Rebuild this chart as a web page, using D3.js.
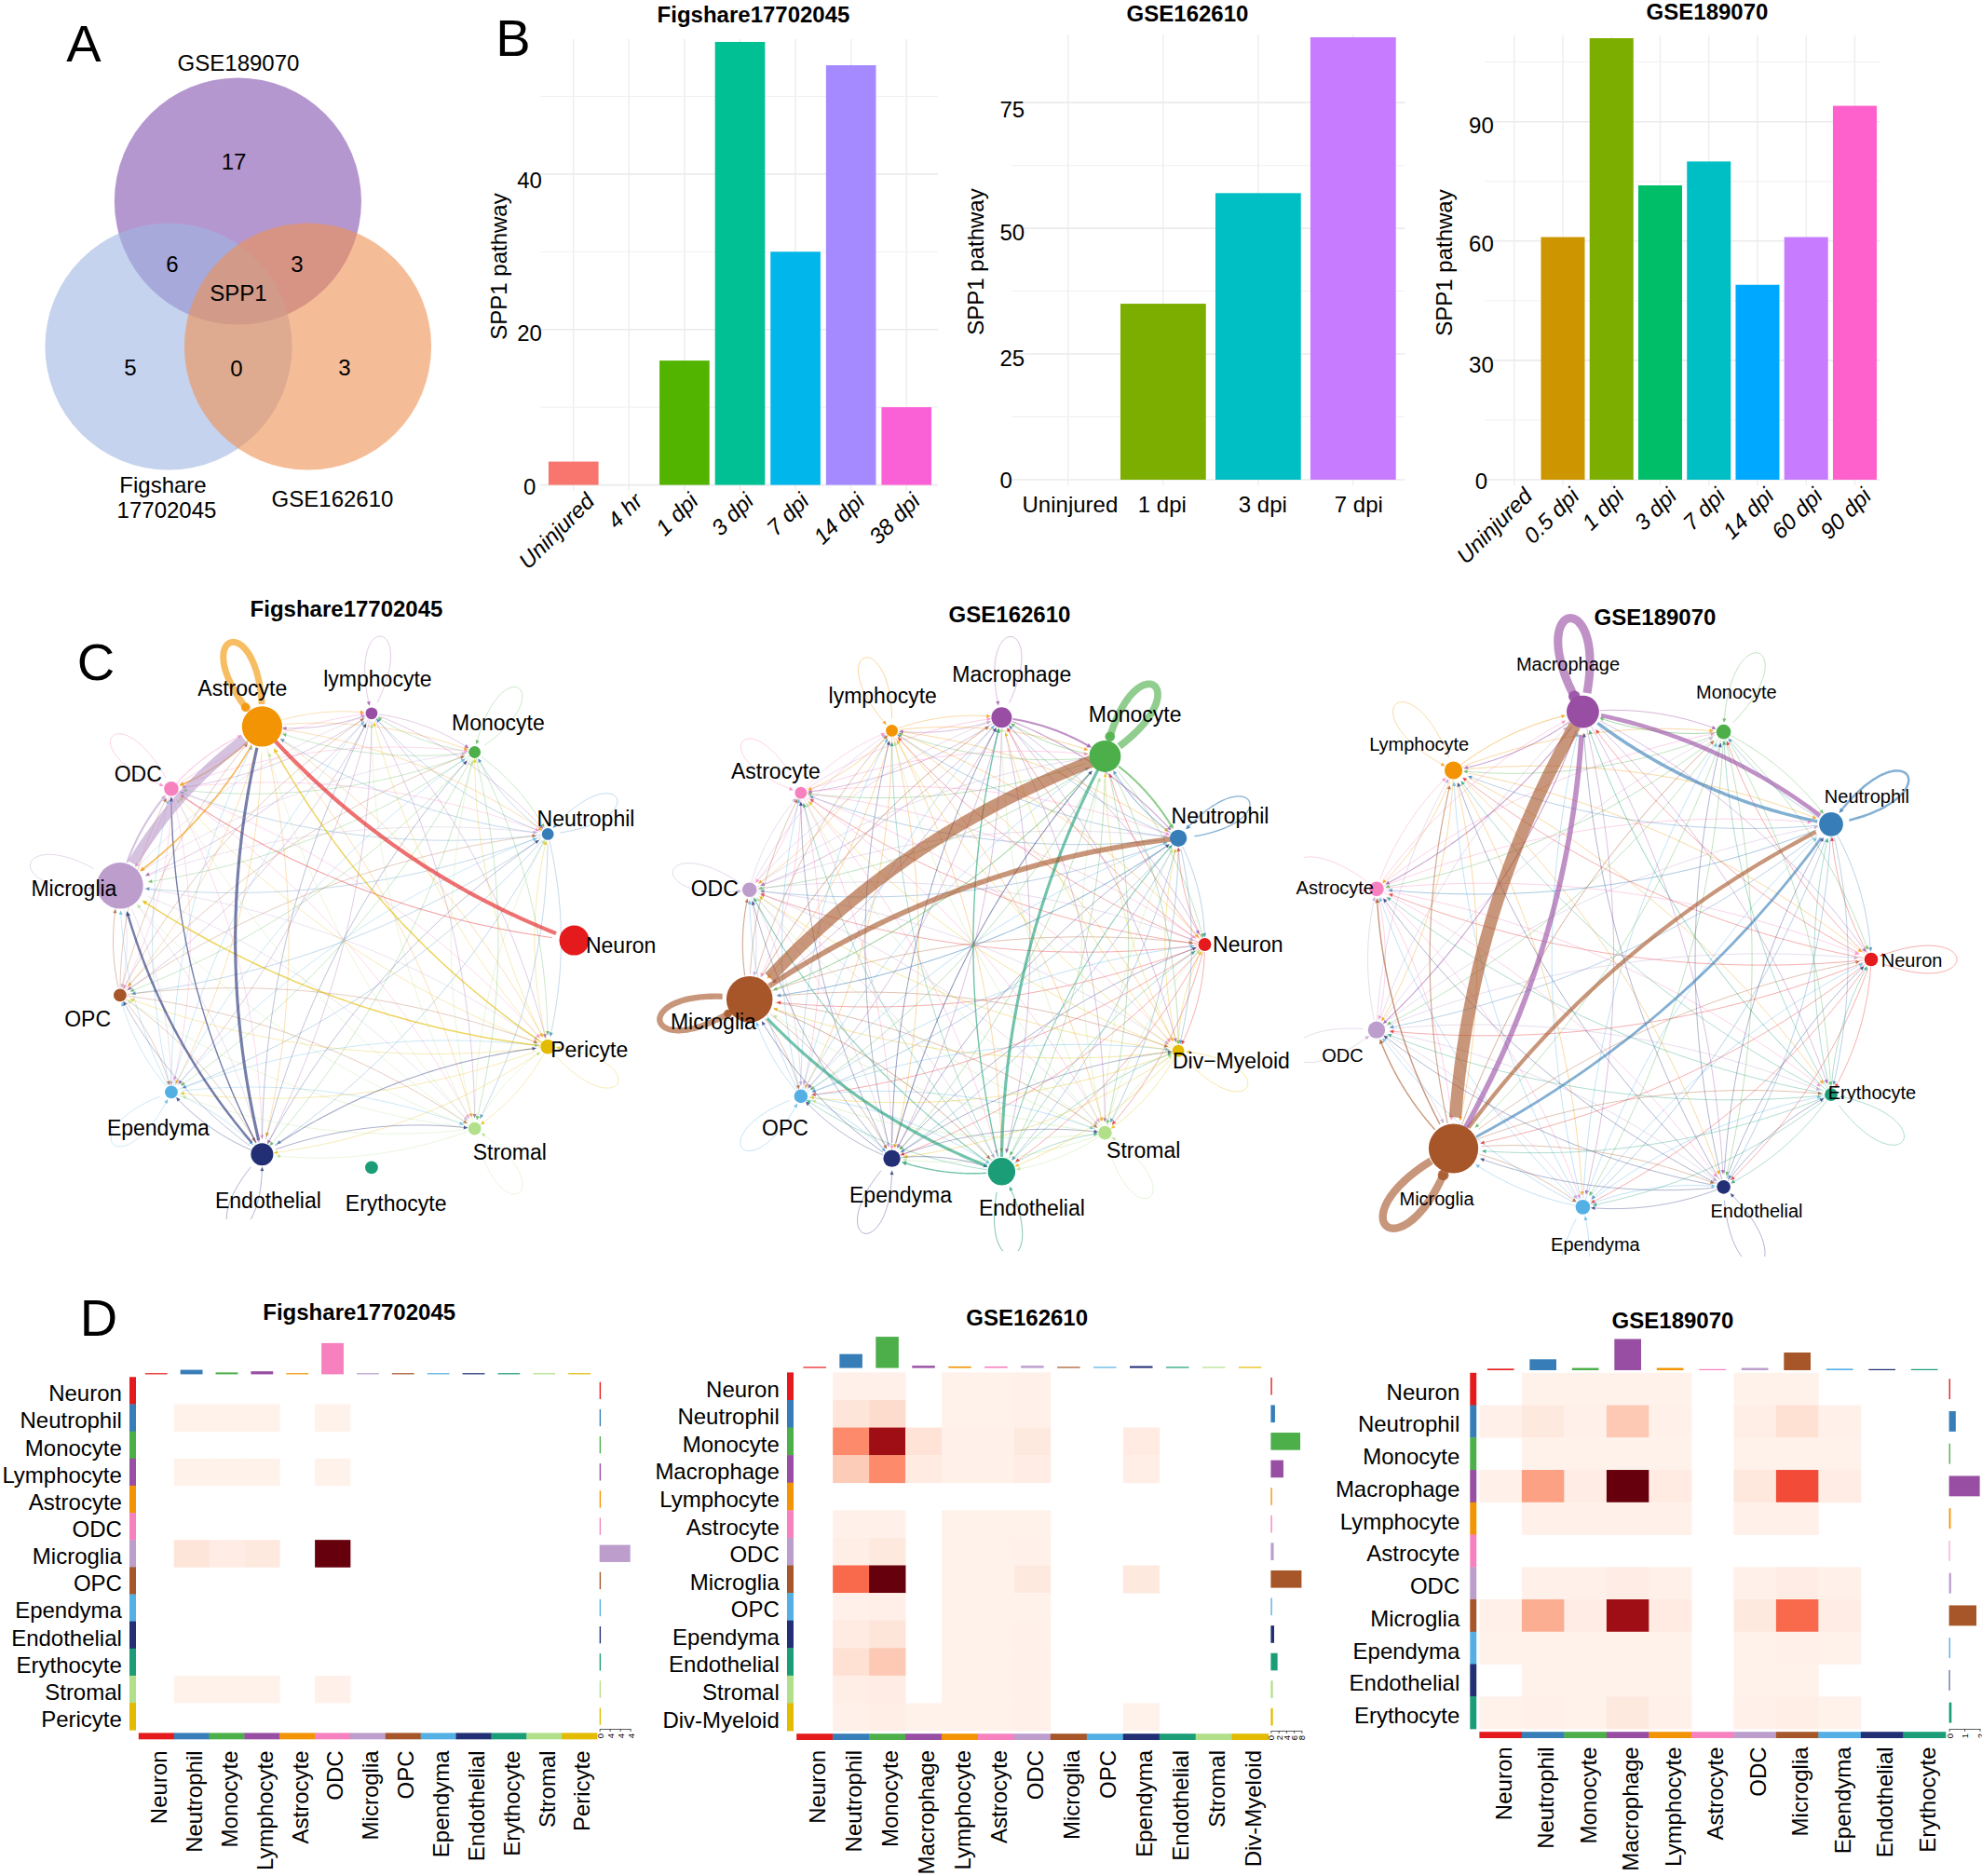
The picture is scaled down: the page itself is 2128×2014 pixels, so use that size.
<!DOCTYPE html>
<html><head><meta charset="utf-8">
<style>html,body{margin:0;padding:0;background:#fff}svg{display:block}text{font-family:"Liberation Sans",Arial,sans-serif;fill:#000}</style>
<script src="https://cdn.jsdelivr.net/npm/d3@7"></script></head><body>
<svg id="fig" width="2128" height="2014" viewBox="0 0 2128 2014"></svg>
<script>
// ---------- data ----------
const palette=["#E41A1C","#377EB8","#4DAF4A","#984EA3","#F29403","#F781BF","#BC9DCC","#A65628","#54B0E4","#222F75","#1B9E77","#B2DF8A","#E3BB00"];

const vennSets=["GSE189070","Figshare","GSE162610"];
const vennColors=["#8452AF","#9EB6E3","#EE9152"];
const vennCounts=["17","6","3","SPP1","5","0","3"];

const catsB1=["Uninjured","4 hr","1 dpi","3 dpi","7 dpi","14 dpi","38 dpi"];
const valsB1=[3,0,16,57,30,54,10];
const colsB1=["#F8766D","#C49A00","#53B400","#00C094","#00B6EB","#A58AFF","#FB61D7"];
const catsB2=["Uninjured","1 dpi","3 dpi","7 dpi"];
const valsB2=[0,35,57,88];
const colsB2=["#F8766D","#7CAE00","#00BFC4","#C77CFF"];
const catsB3=["Uninjured","0.5 dpi","1 dpi","3 dpi","7 dpi","14 dpi","60 dpi","90 dpi"];
const valsB3=[0,61,111,74,80,49,61,94];
const colsB3=["#F8766D","#CD9600","#7CAE00","#00BE67","#00BFC4","#00A9FF","#C77CFF","#FF61CC"];

const namesC1=["Neuron","Neutrophil","Monocyte","lymphocyte","Astrocyte","ODC","Microglia","OPC","Ependyma","Endothelial","Erythocyte","Stromal","Pericyte"];
const sizesC1=[16,6.4,6.4,6.4,21.6,7.8,24.8,6.9,6.9,12,6.9,6.9,7.8];
const netC1=[
[0,0,0,0,6,1.5,0,0,0,0,0,0,0],
[0,1,1,1,1,1,1,1,1,1,0,1,1],
[0,1,1,1,1,1,1,1,1,1,0,1,1],
[0,1,1,1,1.2,1,1,1,1,1,0,1,1],
[0,1,1,1,10,2.5,2.5,1,1,1,0,1,1],
[0,1,1,1,1.6,1.3,1.3,1,1,1,0,1,1],
[0,1,1,1,16,3,1.4,1,1,1,0,1,1],
[0,1,1,1,1,1,1.3,0,1,1,0,1,1],
[0,1,1,1,1,1,1,1,1,1,0,1,1],
[0,1,1,1,4.5,2,3.5,1,1.3,1.2,0,1.3,1.6],
[0,0,0,0,0,0,0,0,0,0,0,0,0],
[0,1,1,1,1,1,1,1,1,1,0,1,1],
[0,1,1,1,2.2,1,2.2,1,1,1,0,1,1]];

const namesC2=["Neuron","Neutrophil","Monocyte","Macrophage","lymphocyte","Astrocyte","ODC","Microglia","OPC","Ependyma","Endothelial","Stromal","Div\u2212Myeloid"];
const sizesC2=[6.9,9.2,17,11,6.4,6.4,7.8,24.8,7.3,9.2,14.7,7.3,6.4];
const netC2=[
[0,1,1,1,1,1,1,1,1,1,1,1,1],
[1,1.8,1.5,1,1,1,1,1.5,1,1,1,1,1],
[1,3,11,1.2,1,1,1,1.5,1,1,1,1,1],
[1,1.6,3,1,1,1,1,1,1,1,1,1,1],
[1,1,1,1,1.1,1,1,1,1,1,1,1,1],
[1,1,1,1,1,1,1,1,1,1,1,1,1],
[1,1,1,1,1,1,1.1,1,1,1,1,1,1],
[1,8,19,1.3,1,1,1.6,9,1,1,1.3,1,1],
[1,1,1,1,1,1,1,1,1,1,1,1,1],
[1,1,1.5,1.3,1,1,1,1.2,1,1,1.2,1,1],
[1,1.5,4.5,2,1,1,1.5,4.5,1,2,1.6,1,1],
[1,1,1,1,1,1,1,1,1,1,1,1,1],
[1,1,1,1,1,1,1,1,1,1,1,1,1]];

const namesC3=["Neuron","Neutrophil","Monocyte","Macrophage","Lymphocyte","Astrocyte","ODC","Microglia","Ependyma","Endothelial","Erythocyte"];
const sizesC3=[7.3,12.9,7.8,17.4,9.6,7.8,9.2,26.6,7.8,7.3,6.9];
const netC3=[
[1,1,1,1,1,1,1,1,1,1,1],
[1,3.5,1,5,1,1.2,1,4,1,1,1],
[1,1,1,1.4,1,1,1,1,1,1,1],
[1,6.5,1.2,13,1.5,1.6,1.6,8,1,1,1],
[1,1,1,1.4,1,1,1,1,1,1,1],
[1,1,1,1,1,1,1,1,1,1,1],
[1,1,1,1,1,1,1,1,1,1,1],
[1,6,1.3,19,1.7,2,2,12,1,1,1],
[1,1,1,1,1,1,1,1,1,1,1],
[1,1,1,1,1,1,1,1,1,1,1],
[1,1,1,1.3,1,1,1,1,1,1,1]];

const rowsD1=["Neuron","Neutrophil","Monocyte","Lymphocyte","Astrocyte","ODC","Microglia","OPC","Ependyma","Endothelial","Erythocyte","Stromal","Pericyte"];
const colsD1=["Neuron","Neutrophil","Monocyte","Lymphocyte","Astrocyte","ODC","Microglia","OPC","Ependyma","Endothelial","Erythocyte","Stromal","Pericyte"];
const heatD1=[
[0,0,0,0,0,0,0,0,0,0,0,0,0],
[0,.02,.02,.02,0,.02,0,0,0,0,0,0,0],
[0,0,0,0,0,0,0,0,0,0,0,0,0],
[0,.02,.02,.02,0,.02,0,0,0,0,0,0,0],
[0,0,0,0,0,0,0,0,0,0,0,0,0],
[0,0,0,0,0,0,0,0,0,0,0,0,0],
[0,.09,.05,.07,0,1,0,0,0,0,0,0,0],
[0,0,0,0,0,0,0,0,0,0,0,0,0],
[0,0,0,0,0,0,0,0,0,0,0,0,0],
[0,0,0,0,0,0,0,0,0,0,0,0,0],
[0,0,0,0,0,0,0,0,0,0,0,0,0],
[0,.02,.02,.02,0,.025,0,0,0,0,0,0,0],
[0,0,0,0,0,0,0,0,0,0,0,0,0]];
const topD1=[3,12,5,8,3,83,3,3,3,3,3,3,3];
const rightD1=[3,3,3,3,3,3,72,3,3,3,3,3,3];
const axisD1=["0","4","4","4"];

const rowsD2=["Neuron","Neutrophil","Monocyte","Macrophage","Lymphocyte","Astrocyte","ODC","Microglia","OPC","Ependyma","Endothelial","Stromal","Div-Myeloid"];
const colsD2=rowsD2;
const heatD2=[
[0,.03,.03,0,.02,.02,.025,0,0,0,0,0,0],
[0,.09,.13,0,.02,.02,.025,0,0,0,0,0,0],
[0,.40,.88,.10,.03,.03,.07,0,0,.06,0,0,0],
[0,.19,.40,.06,.03,.03,.05,0,0,.04,0,0,0],
[0,0,0,0,0,0,0,0,0,0,0,0,0],
[0,.025,.025,0,.02,.02,.02,0,0,0,0,0,0],
[0,.04,.07,0,.02,.02,.025,0,0,0,0,0,0],
[0,.50,1,0,.02,.02,.07,0,0,.07,0,0,0],
[0,.03,.035,0,.02,.02,.02,0,0,0,0,0,0],
[0,.06,.09,0,.02,.02,.025,0,0,0,0,0,0],
[0,.11,.20,0,.02,.02,.03,0,0,0,0,0,0],
[0,.04,.05,0,.02,.02,.025,0,0,0,0,0,0],
[0,.03,.04,.02,.02,.02,.025,0,0,.02,0,0,0]];
const topD2=[3,37,83,6,4,4,6,3,3,5,3,3,3];
const rightD2=[3,10,70,30,3,3,7,73,3,8,16,5,5];
const axisD2=["0","2","4","6","8"];

const rowsD3=["Neuron","Neutrophil","Monocyte","Macrophage","Lymphocyte","Astrocyte","ODC","Microglia","Ependyma","Endothelial","Erythocyte"];
const colsD3=rowsD3;
const heatD3=[
[0,.02,.02,.02,.02,0,.02,.02,0,0,0],
[.025,.07,.03,.20,.03,0,.04,.11,.03,0,0],
[0,.02,.02,.02,.02,0,.02,.02,.02,0,0],
[.03,.33,.05,1,.06,0,.08,.58,.05,0,0],
[0,.025,.025,.03,.025,0,.025,.03,0,0,0],
[0,0,0,0,0,0,0,0,0,0,0],
[0,.03,.03,.05,.03,0,.03,.045,.03,0,0],
[.03,.29,.05,.88,.06,0,.07,.50,.05,0,0],
[.02,.02,.02,.02,.02,0,.02,.025,.02,0,0],
[0,.02,.02,.02,.02,0,.02,.02,0,0,0],
[.02,.03,.02,.07,.025,0,.025,.04,.02,0,0]];
const topD3=[4,29,6,83,6,3,6,47,4,3,3];
const rightD3=[3,16,3,73,4,2,5,65,3,2,6];
const axisD3=["0","1","2"];

// ---------- helpers ----------
const svg=d3.select("#fig");
const FONT=24;
function txt(g,x,y,s,o={}){
  const t=g.append("text").attr("x",x).attr("y",y).attr("text-anchor",o.anchor||"middle")
    .attr("dy",o.dy||"0.35em").attr("font-size",o.size||FONT).text(s);
  if(o.bold)t.attr("font-weight","bold");
  if(o.italic)t.attr("font-style","italic");
  if(o.rotate!==undefined)t.attr("transform",`rotate(${o.rotate},${x},${y})`);
  return t;
}

// ---------- panel letters ----------
[["A",90,46],["B",551,40],["C",103,710],["D",106,1414]].forEach(d=>txt(svg,d[1],d[2],d[0],{size:56}));

// ---------- panel A ----------
(function(){
  const g=svg.append("g");
  const cx=[255.4,181,330.5], cy=[216,372,372];
  vennSets.forEach((s,i)=>g.append("circle").attr("cx",cx[i]).attr("cy",cy[i]).attr("r",132.6)
     .attr("fill",vennColors[i]).attr("fill-opacity",.6));
  const px=[251,185,319,256,140,254,370], py=[174,284,284,315,395,396,395];
  vennCounts.forEach((s,i)=>txt(g,px[i],py[i],s));
  txt(g,256,68,"GSE189070"); txt(g,175,521,"Figshare"); txt(g,179,548,"17702045"); txt(g,357,536,"GSE162610");
})();

// ---------- panel B ----------
function barPanel(o){
  const g=svg.append("g");
  const x=d3.scaleBand().domain(o.cats).range([o.left,o.right]).paddingInner(.1).paddingOuter(.15);
  const y=d3.scaleLinear().domain([0,o.max]).range([o.y0,o.yTop]);
  const cx=c=>x(c)+x.bandwidth()/2;
  g.selectAll(".vg").data(o.cats).join("line").attr("x1",cx).attr("x2",cx)
    .attr("y1",o.yTop-3).attr("y2",o.y0+6).attr("stroke","#ececec").attr("stroke-width",1.3);
  g.selectAll(".mg").data(o.minor).join("line").attr("x1",o.left).attr("x2",o.gridRight)
    .attr("y1",y).attr("y2",y).attr("stroke","#f0f0f0").attr("stroke-width",1);
  g.selectAll(".hg").data(o.ticks).join("line").attr("x1",o.left).attr("x2",o.gridRight)
    .attr("y1",y).attr("y2",y).attr("stroke","#ebebeb").attr("stroke-width",1.6);
  g.selectAll(".bar").data(o.vals).join("rect")
    .attr("x",(d,i)=>x(o.cats[i])).attr("width",x.bandwidth())
    .attr("y",d=>y(d)).attr("height",d=>y(0)-y(d)).attr("fill",(d,i)=>o.colors[i]);
  const ay=g.append("g").attr("transform",`translate(${o.left},0)`).call(d3.axisLeft(y).tickValues(o.ticks).tickSize(0));
  ay.select(".domain").remove();
  ay.selectAll("text").attr("x",o.tickDx).attr("text-anchor",o.tickAnchor).attr("dy","0.32em")
     .attr("transform",(d,i)=>`translate(0,${o.tickShift[i]})`)
     .attr("font-size",FONT).attr("fill","#000").style("font-family",'"Liberation Sans",Arial,sans-serif');
  const ax=g.append("g").attr("transform",`translate(0,${o.y0})`).call(d3.axisBottom(x).tickSize(0));
  ax.select(".domain").remove();
  ax.selectAll("text").attr("font-size",FONT).attr("fill","#000").style("font-family",'"Liberation Sans",Arial,sans-serif');
  if(o.rotated){
    ax.selectAll("text").attr("text-anchor","end").attr("font-style","italic").attr("dy",0).attr("y",0)
      .attr("transform",(d,i)=>`translate(${o.shift[i]},19) rotate(-45)`);
  }else{
    ax.selectAll("text").attr("y",27).attr("dy","0.35em").attr("x",(d,i)=>o.shift[i]);
  }
  txt(g,o.yLabel[0],o.yLabel[1],"SPP1 pathway",{rotate:-90});
  txt(g,o.title[0],o.title[1],o.title[2],{bold:true});
}
barPanel({cats:catsB1,vals:valsB1,colors:colsB1,left:580,right:1009,gridRight:1007,y0:520.6,yTop:45,max:57,ticks:[0,20,40],minor:[10,30,50],
  rotated:true,shift:[24,16,16,16,16,16,16],tickDx:-11.4,tickAnchor:"middle",tickShift:[2,4.5,7.2],yLabel:[536,286],title:[809,16,"Figshare17702045"]});
barPanel({cats:catsB2,vals:valsB2,colors:colsB2,left:1085.7,right:1514,gridRight:1508.4,y0:515,yTop:40,max:88,ticks:[0,25,50,75],minor:[12.5,37.5,62.5],
  rotated:false,shift:[2,-1,5,6],tickDx:-12.2,tickAnchor:"start",tickShift:[.4,4.5,4.5,7.2],yLabel:[1048,281],title:[1275,15,"GSE162610"]});
barPanel({cats:catsB3,vals:valsB3,colors:colsB3,left:1594.4,right:2022.8,gridRight:2018.5,y0:515,yTop:41,max:111,ticks:[0,30,60,90],minor:[15,45,75,105],
  rotated:true,shift:[21,19,15,19,19,19,19,19],tickDx:-4,tickAnchor:"middle",tickShift:[1.8,4.5,3,4.5],yLabel:[1551,282],title:[1833,13,"GSE189070"]});

// ---------- panel C ----------
function circlePanel(o){
  const clipId="clip"+o.id;
  svg.append("clipPath").attr("id",clipId).append("rect").attr("x",o.clip[0]).attr("y",o.clip[1]).attr("width",o.clip[2]).attr("height",o.clip[3]);
  const g=svg.append("g").attr("clip-path",`url(#${clipId})`);
  const n=o.names.length;
  const ang=d3.scaleLinear().domain([0,n]).range([0,2*Math.PI]);
  const px=i=>o.cx+o.Rx*Math.cos(ang(i)), py=i=>o.cy-o.Ry*Math.sin(ang(i));
  const line=d3.line().curve(d3.curveBasis);
  function strokePts(pts,tx,ty,tr,sr,sx,sy,w,color,isLoop){
    // trim the sampled curve at both node rims and finish it with an arrow head
    const alen=w<1.2?4.5:Math.max(5,Math.min(w,6)), ahw=w<1.2?2:Math.max(2.4,Math.min(w*.6,4));
    const thick=w>2.5;
    const kept=pts.filter((p,i)=>{
      const dt=Math.hypot(p[0]-tx,p[1]-ty), ds=Math.hypot(p[0]-sx,p[1]-sy);
      return dt>tr+(thick?-2:alen) && (i>pts.length/2 || ds>sr);
    });
    if(kept.length<2)return;
    const thin=w<1.2;
    g.append("path").attr("d",line(kept)).attr("fill","none").attr("stroke",color)
      .attr("stroke-width",w).attr("stroke-opacity",thin?o.thinAlpha:.62);
    const a=kept[kept.length-1], b=kept[kept.length-2];
    const ux=(a[0]-b[0]), uy=(a[1]-b[1]), L=Math.hypot(ux,uy)||1;
    const dx=ux/L, dy=uy/L;
    if(thick){ // wide loops end in a soft round head that sits on the node
      if(isLoop)g.append("circle").attr("cx",a[0]-dx*3).attr("cy",a[1]-dy*3).attr("r",Math.min(w*.7,6.5)).attr("fill",color).attr("fill-opacity",.85);
      return;
    }
    const tipx=a[0]+dx*alen, tipy=a[1]+dy*alen;
    g.append("path").attr("d",`M${tipx},${tipy}L${a[0]-dy*ahw},${a[1]+dx*ahw}L${a[0]+dy*ahw},${a[1]-dx*ahw}Z`)
      .attr("fill",color).attr("fill-opacity",thin?.8:.85);
  }
  const order=[];
  o.net.forEach((row,i)=>row.forEach((v,j)=>{if(v>0)order.push([i,j,v]);}));
  order.sort((a,b)=>a[2]-b[2]);
  order.forEach(([i,j,v])=>{
    const w=v*.7, color=palette[i];
    const x0=px(i),y0=py(i),x1=px(j),y1=py(j);
    const pts=[];
    if(i===j){
      const a=ang(i);
      const tip=(78+.85*o.sizes[i])*o.Ry/245.6;
      const ax=Math.cos(a), ay=-Math.sin(a);
      const dAx=tip*1.333, wid=dAx*.42;
      const c1=[x0+ax*dAx-ay*wid, y0+ay*dAx+ax*wid];
      const c2=[x0+ax*dAx+ay*wid, y0+ay*dAx-ax*wid];
      for(let k=0;k<=80;k++){
        const t=k/80,m=1-t;
        pts.push([m*m*m*x0+3*m*m*t*c1[0]+3*m*t*t*c2[0]+t*t*t*x0, m*m*m*y0+3*m*m*t*c1[1]+3*m*t*t*c2[1]+t*t*t*y0]);
      }
    }else{
      const dx=x1-x0,dy=y1-y0,L=Math.hypot(dx,dy);
      const cxp=(x0+x1)/2+dy/L*.125*L, cyp=(y0+y1)/2-dx/L*.125*L;
      for(let k=0;k<=60;k++){
        const t=k/60,m=1-t;
        pts.push([m*m*x0+2*m*t*cxp+t*t*x1, m*m*y0+2*m*t*cyp+t*t*y1]);
      }
    }
    strokePts(pts,x1,y1,o.sizes[j],o.sizes[i],x0,y0,w,color,i===j);
  });
  g.selectAll(".node").data(o.names).join("circle")
    .attr("cx",(d,i)=>px(i)).attr("cy",(d,i)=>py(i)).attr("r",(d,i)=>o.sizes[i]).attr("fill",(d,i)=>palette[i]);
  const lab=svg.append("g");
  o.names.forEach((s,i)=>txt(lab,o.lx[i],o.ly[i],s,{size:o.fs}));
  txt(lab,o.title[0],o.title[1],o.title[2],{bold:true});
}
circlePanel({id:"c1",names:namesC1,sizes:sizesC1,net:netC1,cx:369.1,cy:1009.6,Rx:247.4,Ry:245.6,fs:23,thinAlpha:.42,clip:[0,640,720,669],
  lx:[666.7,629,534.9,405.4,260.3,148.3,79.4,94.1,169.9,287.9,425.2,547.3,632.7],
  ly:[1014.9,878.5,776.1,729.3,738.9,830.7,953.8,1093.8,1210.5,1288.5,1291.7,1237.1,1126.9],
  title:[372,654,"Figshare17702045"]});
circlePanel({id:"c2",names:namesC2,sizes:sizesC2,net:netC2,cx:1045.5,cy:1014,Rx:248,Ry:245.6,fs:23,thinAlpha:.5,clip:[690,640,720,703],
  lx:[1339.8,1310,1218.6,1086.3,947.7,832.9,767.2,765.9,843,967,1107.9,1227.7,1321.9],
  ly:[1013.5,875.7,767.4,724.2,746.7,828.4,953.8,1096.6,1210.5,1282.5,1296.8,1235.2,1139.3],
  title:[1084,660,"GSE162610"]});
circlePanel({id:"c3",names:namesC3,sizes:sizesC3,net:netC3,cx:1738,cy:1030,Rx:271,Ry:268.6,fs:20,thinAlpha:.5,clip:[1400,640,728,709],
  lx:[2052.6,2004.4,1864.4,1683.5,1523.7,1433.3,1441.5,1542.5,1712.9,1886,2010],
  ly:[1030.6,855,742.7,713.4,798.9,952.7,1133,1286.8,1335.9,1300,1173],
  title:[1777,662.5,"GSE189070"]});

// ---------- panel D ----------
function heatPanel(o){
  const g=svg.append("g");
  const x=d3.scaleBand().domain(d3.range(o.cols.length)).range([o.x0,o.x1]);
  const y=d3.scaleBand().domain(d3.range(o.rows.length)).range([o.y0,o.y1]);
  const color=d3.scaleSequential(d3.interpolateReds).domain([0,1]);
  o.heat.forEach((row,r)=>row.forEach((v,c)=>{
    if(v>0)g.append("rect").attr("x",x(c)).attr("y",y(r)).attr("width",x.bandwidth()+.4).attr("height",y.bandwidth()+.4).attr("fill",color(v));
  }));
  g.selectAll(".rs").data(o.rows).join("rect").attr("x",o.rowStrip[0]).attr("width",o.rowStrip[1]-o.rowStrip[0])
    .attr("y",(d,i)=>y(i)).attr("height",y.bandwidth()+.4).attr("fill",(d,i)=>palette[i]);
  g.selectAll(".cs").data(o.cols).join("rect").attr("y",o.colStrip[0]).attr("height",o.colStrip[1]-o.colStrip[0])
    .attr("x",(d,i)=>x(i)).attr("width",x.bandwidth()+.4).attr("fill",(d,i)=>palette[i]);
  const tScale=d3.scaleLinear().domain([0,83]).range([o.topBase,o.topBase-33.5]);
  const bw=x.bandwidth()*.63;
  g.selectAll(".tb").data(o.top).join("rect").attr("x",(d,i)=>x(i)+(x.bandwidth()-bw)/2).attr("width",bw)
    .attr("y",d=>tScale(d)).attr("height",d=>o.topBase-tScale(d)).attr("fill",(d,i)=>palette[i]);
  const rScale=d3.scaleLinear().domain([0,o.rightMax]).range([o.rightBase,o.rightBase+33]);
  const bh=y.bandwidth()*.63;
  g.selectAll(".rb").data(o.right).join("rect").attr("y",(d,i)=>y(i)+(y.bandwidth()-bh)/2).attr("height",bh)
    .attr("x",o.rightBase).attr("width",d=>rScale(d)-o.rightBase).attr("fill",(d,i)=>palette[i]);
  const sa=d3.scaleLinear().domain([0,o.axis.length-1]).range([o.rightBase,o.rightBase+33]);
  const ag=g.append("g").attr("transform",`translate(0,${o.axisY})`)
    .call(d3.axisBottom(sa).tickValues(d3.range(o.axis.length)).tickFormat(i=>o.axis[i]).tickSize(3).tickSizeOuter(0));
  ag.select(".domain").attr("stroke","#333").attr("stroke-width",.8);
  ag.selectAll("line").attr("stroke","#333").attr("stroke-width",.8);
  ag.selectAll("text").attr("font-size",9.5).attr("fill","#222").attr("text-anchor","end").attr("dy",0).attr("y",0)
    .attr("transform","translate(3.5,5) rotate(-90)").style("font-family",'"Liberation Sans",Arial,sans-serif');
  o.rows.forEach((s,i)=>txt(g,o.rowRight,y(i)+y.bandwidth()/2+3,s,{anchor:"end"}));
  o.cols.forEach((s,i)=>{
    const cx=x(i)+x.bandwidth()/2+3;
    txt(g,cx,o.colTop,s,{anchor:"end",rotate:-90});
  });
  txt(g,o.title[0],o.title[1],o.title[2],{bold:true});
}
heatPanel({rows:rowsD1,cols:colsD1,heat:heatD1,top:topD1,right:rightD1,axis:axisD1,rightMax:72,
  x0:148.8,x1:641,y0:1478.3,y1:1857.2,rowStrip:[139,146],colStrip:[1860.4,1867.3],topBase:1475.4,rightBase:643.7,axisY:1856,
  rowRight:130.9,colTop:1879.4,title:[385.7,1409,"Figshare17702045"]});
heatPanel({rows:rowsD2,cols:colsD2,heat:heatD2,top:topD2,right:rightD2,axis:axisD2,rightMax:73,
  x0:855.2,x1:1361.6,y0:1473.4,y1:1858,rowStrip:[845,852],colStrip:[1861.2,1868],topBase:1468.6,rightBase:1364.4,axisY:1858,
  rowRight:836.8,colTop:1879,title:[1102.7,1415,"GSE162610"]});
heatPanel({rows:rowsD3,cols:colsD3,heat:heatD3,top:topD3,right:rightD3,axis:axisD3,rightMax:73,
  x0:1588.4,x1:2088.9,y0:1473.8,y1:1856,rowStrip:[1578.3,1585.2],colStrip:[1859.2,1866],topBase:1471,rightBase:2092.6,axisY:1856,
  rowRight:1567.3,colTop:1875.4,title:[1796,1417.6,"GSE189070"]});
</script></body></html>
